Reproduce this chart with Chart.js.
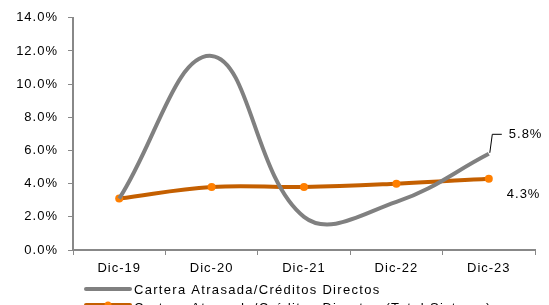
<!DOCTYPE html>
<html>
<head>
<meta charset="utf-8">
<script src="https://cdn.jsdelivr.net/npm/chart.js@4/dist/chart.umd.min.js"></script>
<style>
  body { margin: 0; background: #fff; }
</style>
</head>
<body>
<canvas id="myChart" width="549" height="305"></canvas>
<script>
// Chart data
var categories = ['Dic-19', 'Dic-20', 'Dic-21', 'Dic-22', 'Dic-23'];
var carteraDirectos = [3.1, 11.7, 2.0, 2.9, 5.8];
var carteraSistema = [3.1, 3.8, 3.8, 4.0, 4.3];
var yTicks = [0, 2, 4, 6, 8, 10, 12, 14];

var FONT = 'Liberation Sans, Arial, sans-serif';

// wider letter spacing, like the Excel export
var spacingPlugin = {
    id: 'spacing',
    beforeDraw: function (chart) { chart.ctx.letterSpacing = '1px'; }
};

// last-point labels and bottom legend, drawn by hand
var extrasPlugin = {
    id: 'extras',
    afterDraw: function (chart) {
        var ctx = chart.ctx;
        var p0 = chart.getDatasetMeta(0).data[4];
        var p1 = chart.getDatasetMeta(1).data[4];
        ctx.save();
        ctx.font = '13px ' + FONT;
        ctx.letterSpacing = '1px';
        ctx.fillStyle = '#000';
        ctx.textBaseline = 'middle';
        ctx.textAlign = 'left';

        // leader line for 5.8%
        ctx.strokeStyle = '#000';
        ctx.lineWidth = 1;
        ctx.beginPath();
        ctx.moveTo(p0.x + 1, p0.y - 1);
        ctx.lineTo(p0.x + 3.5, p0.y - 19.5);
        ctx.lineTo(p0.x + 13, p0.y - 19.5);
        ctx.stroke();
        ctx.fillText(carteraDirectos[4].toFixed(1) + '%', p0.x + 20, p0.y - 19);
        ctx.fillText(carteraSistema[4].toFixed(1) + '%', p1.x + 18, p1.y + 16);

        // legend
        ctx.letterSpacing = '1.3px';
        var ds = chart.data.datasets;
        var rows = [289, 305];
        for (var i = 0; i < ds.length; i++) {
            var y = rows[i];
            ctx.strokeStyle = ds[i].borderColor;
            ctx.lineWidth = 4;
            ctx.lineCap = 'round';
            ctx.beginPath();
            ctx.moveTo(86, y);
            ctx.lineTo(130, y);
            ctx.stroke();
            if (ds[i].pointRadius > 0) {
                ctx.fillStyle = ds[i].pointBackgroundColor;
                ctx.beginPath();
                ctx.arc(108, y, 3.5, 0, Math.PI * 2);
                ctx.fill();
            }
            ctx.fillStyle = '#000';
            ctx.fillText(ds[i].label, 134, y + (i === 0 ? 1 : 3));
        }
        ctx.restore();
    }
};

var ctx = document.getElementById('myChart').getContext('2d');

var myChart = new Chart(ctx, {
    type: 'line',
    data: {
        labels: categories,
        datasets: [
            {
                label: 'Cartera Atrasada/Créditos Directos',
                data: carteraDirectos,
                borderColor: '#808080',
                backgroundColor: '#808080',
                borderWidth: 4,
                pointRadius: 0,
                tension: 0.4
            },
            {
                label: 'Cartera Atrasada/Créditos Directos (Total Sistema)',
                data: carteraSistema,
                borderColor: '#C45F00',
                backgroundColor: '#FF7F00',
                pointBackgroundColor: '#FF7F00',
                pointBorderWidth: 0,
                pointRadius: 4,
                borderWidth: 4,
                tension: 0.4
            }
        ]
    },
    options: {
        responsive: false,
        animation: false,
        layout: { padding: { top: 15, right: 14, bottom: 25, left: 0 } },
        plugins: {
            legend: { display: false },
            tooltip: { enabled: false }
        },
        scales: {
            x: {
                offset: true,
                grid: { offset: true, drawOnChartArea: false, tickLength: 5, color: '#888' },
                border: { color: '#888', width: 2 },
                ticks: { color: '#000', font: { family: FONT, size: 13 }, padding: 6 },
                afterFit: function (scale) { scale.height = 30; }
            },
            y: {
                min: 0,
                max: 14,
                afterBuildTicks: function (scale) {
                    scale.ticks = yTicks.map(function (v) { return { value: v }; });
                },
                grid: { drawOnChartArea: false, tickLength: 5, color: '#888' },
                border: { color: '#888', width: 2 },
                ticks: {
                    color: '#000',
                    font: { family: FONT, size: 13 },
                    padding: 10,
                    callback: function (v) { return v.toFixed(1) + '%'; }
                },
                afterFit: function (scale) { scale.width = 73; }
            }
        }
    },
    plugins: [spacingPlugin, extrasPlugin]
});
</script>
</body>
</html>
